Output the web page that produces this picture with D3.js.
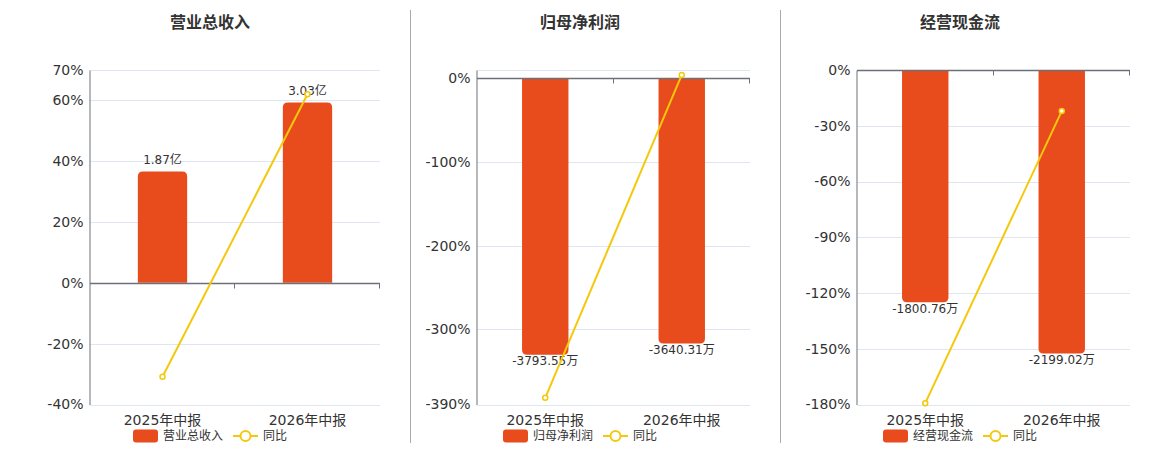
<!doctype html>
<html lang="zh">
<head>
  <meta charset="UTF-8">
  <title>Document</title>
  <style>
    body { margin: 0; background: #fff; }
    #app { position: relative; width: 1160px; height: 450px; }
    text { font-family: "DejaVu Sans", "Noto Sans CJK SC", sans-serif; }
  </style>
</head>
<body>
<div id="app"></div>
<script src="https://cdn.jsdelivr.net/npm/d3@7/dist/d3.min.js"></script>
<script>
  var categories = ['2025年中报', '2026年中报'];
  var titles = ['营业总收入', '归母净利润', '经营现金流'];

  var revenueValues = [1.87, 3.03];
  var revenueLabels = ['1.87亿', '3.03亿'];
  var revenueYoy = [-30.9, 62.03];
  var revenueTicks = [-40, -20, 0, 20, 40, 60, 70];

  var profitValues = [-3793.55, -3640.31];
  var profitLabels = ['-3793.55万', '-3640.31万'];
  var profitYoy = [-382, 4.04];
  var profitTicks = [-390, -300, -200, -100, 0, 10];

  var cashValues = [-1800.76, -2199.02];
  var cashLabels = ['-1800.76万', '-2199.02万'];
  var cashYoy = [-179.3, -22.12];
  var cashTicks = [-180, -150, -120, -90, -60, -30, 0];

  var width = 1160;
  var height = 450;
  var barColor = '#e84b1c';
  var lineColor = '#f4c80c';
  var gridColor = '#e0e6f1';
  var axisColor = '#6e7079';
  var textColor = '#333';

  var panels = [
    { title: titles[0], values: revenueValues, labels: revenueLabels, yoy: revenueYoy,
      ticks: revenueTicks, hidden: [], domain: [-40, 70], x0: 90, x1: 380, cx: 210 },
    { title: titles[1], values: profitValues, labels: profitLabels, yoy: profitYoy,
      ticks: profitTicks, hidden: [10], domain: [-390, 10], x0: 477, x1: 750, cx: 580 },
    { title: titles[2], values: cashValues, labels: cashLabels, yoy: cashYoy,
      ticks: cashTicks, hidden: [], domain: [-180, 0], x0: 857, x1: 1130, cx: 960 }
  ];

  var svg = d3.select('#app')
              .append('svg')
              .attr('width', width)
              .attr('height', height);

  // separators
  svg.selectAll('line.sep')
    .data([410.5, 780.5])
    .enter()
    .append('line')
    .attr('class', 'sep')
    .attr('x1', d => d).attr('x2', d => d)
    .attr('y1', 10).attr('y2', 443)
    .attr('stroke', '#aaa')
    .attr('stroke-width', 1);

  panels.forEach(drawPanel);

  function drawPanel(p) {
    var g = svg.append('g');
    var y = d3.scaleLinear().domain(p.domain).range([404.5, 70]);
    var x = d3.scaleBand().domain(categories).range([p.x0, p.x1]);

    // hidden value axis for bars, zero aligned with 0%
    var ext = d3.max(p.values, d => Math.abs(d)) * 1.18;
    var sign = p.values[0] < 0 ? -1 : 1;
    var pctExt = sign > 0 ? p.domain[1] : p.domain[0];
    var yb = d3.scaleLinear().domain([0, sign * ext]).range([y(0), y(pctExt)]);

    // title
    g.append('text')
      .attr('x', p.cx).attr('y', 23)
      .attr('text-anchor', 'middle')
      .attr('dominant-baseline', 'middle')
      .attr('font-size', 16)
      .attr('font-weight', 'bold')
      .attr('fill', textColor)
      .text(p.title);

    // grid
    g.selectAll('line.grid')
      .data(p.ticks)
      .enter()
      .append('line')
      .attr('class', 'grid')
      .attr('x1', p.x0).attr('x2', p.x1)
      .attr('y1', d => Math.round(y(d)) + 0.5)
      .attr('y2', d => Math.round(y(d)) + 0.5)
      .attr('stroke', gridColor);

    // y axis
    var yAxis = d3.axisLeft(y)
      .tickValues(p.ticks.filter(t => p.hidden.indexOf(t) < 0))
      .tickSize(0)
      .tickPadding(6)
      .tickFormat(d => d + '%');
    var ya = g.append('g')
      .attr('transform', 'translate(' + (p.x0 - 0.5) + ',0)')
      .call(yAxis);
    ya.select('.domain').attr('stroke', axisColor);
    ya.selectAll('text')
      .attr('font-size', 14)
      .attr('fill', textColor);

    // bars
    var r = 5;
    g.selectAll('path.bar')
      .data(p.values)
      .enter()
      .append('path')
      .attr('class', 'bar')
      .attr('fill', barColor)
      .attr('d', (d, i) => {
        var bw = x.bandwidth() * 0.34;
        var cx = x(categories[i]) + x.bandwidth() / 2;
        var l = cx - bw / 2, rr = cx + bw / 2;
        var y0 = yb(0), y1 = yb(d);
        var s = d >= 0 ? 1 : -1;
        return 'M' + l + ',' + y0 +
          'L' + l + ',' + (y1 + s * r) +
          'Q' + l + ',' + y1 + ' ' + (l + r) + ',' + y1 +
          'L' + (rr - r) + ',' + y1 +
          'Q' + rr + ',' + y1 + ' ' + rr + ',' + (y1 + s * r) +
          'L' + rr + ',' + y0 + 'Z';
      });

    // bar labels
    g.selectAll('text.blabel')
      .data(p.values)
      .enter()
      .append('text')
      .attr('class', 'blabel')
      .attr('x', (d, i) => x(categories[i]) + x.bandwidth() / 2)
      .attr('y', d => d >= 0 ? yb(d) - 11 : yb(d) + 7)
      .attr('text-anchor', 'middle')
      .attr('dominant-baseline', 'middle')
      .attr('font-size', 12)
      .attr('fill', textColor)
      .text((d, i) => p.labels[i]);

    // x axis at zero
    var zy = Math.round(y(0)) + 0.5;
    g.append('line')
      .attr('x1', p.x0).attr('x2', p.x1)
      .attr('y1', zy).attr('y2', zy)
      .attr('stroke', axisColor)
      .attr('stroke-width', 1.5);
    g.selectAll('line.xtick')
      .data([p.x0 + x.bandwidth(), p.x1])
      .enter()
      .append('line')
      .attr('class', 'xtick')
      .attr('x1', d => Math.round(d) - 0.5).attr('x2', d => Math.round(d) - 0.5)
      .attr('y1', zy).attr('y2', zy + 5)
      .attr('stroke', axisColor);

    // category labels
    g.selectAll('text.cat')
      .data(categories)
      .enter()
      .append('text')
      .attr('class', 'cat')
      .attr('x', d => x(d) + x.bandwidth() / 2)
      .attr('y', 421)
      .attr('text-anchor', 'middle')
      .attr('dominant-baseline', 'middle')
      .attr('font-size', 14)
      .attr('fill', textColor)
      .text(d => d);

    // yoy line
    var line = d3.line()
      .x((d, i) => x(categories[i]) + x.bandwidth() / 2)
      .y(d => y(d));
    g.append('path')
      .datum(p.yoy)
      .attr('d', line)
      .attr('fill', 'none')
      .attr('stroke', lineColor)
      .attr('stroke-width', 2);
    g.selectAll('circle.pt')
      .data(p.yoy)
      .enter()
      .append('circle')
      .attr('class', 'pt')
      .attr('cx', (d, i) => x(categories[i]) + x.bandwidth() / 2)
      .attr('cy', d => y(d))
      .attr('r', 2.5)
      .attr('fill', '#fff')
      .attr('stroke', lineColor)
      .attr('stroke-width', 1.5);

    // legend
    var lx = p.cx - 77;
    var lg = g.append('g').attr('transform', 'translate(' + lx + ',436)');
    lg.append('rect')
      .attr('x', 0).attr('y', -6.5)
      .attr('width', 25).attr('height', 13)
      .attr('rx', 3)
      .attr('fill', barColor);
    lg.append('text')
      .attr('x', 30).attr('y', 0)
      .attr('dominant-baseline', 'middle')
      .attr('font-size', 12)
      .attr('fill', textColor)
      .text(p.title);
    lg.append('line')
      .attr('x1', 100).attr('x2', 125)
      .attr('y1', 0).attr('y2', 0)
      .attr('stroke', lineColor)
      .attr('stroke-width', 2);
    lg.append('circle')
      .attr('cx', 112.5).attr('cy', 0)
      .attr('r', 5)
      .attr('fill', '#fff')
      .attr('stroke', lineColor)
      .attr('stroke-width', 2);
    lg.append('text')
      .attr('x', 130).attr('y', 0)
      .attr('dominant-baseline', 'middle')
      .attr('font-size', 12)
      .attr('fill', textColor)
      .text('同比');
  }
</script>
</body>
</html>
